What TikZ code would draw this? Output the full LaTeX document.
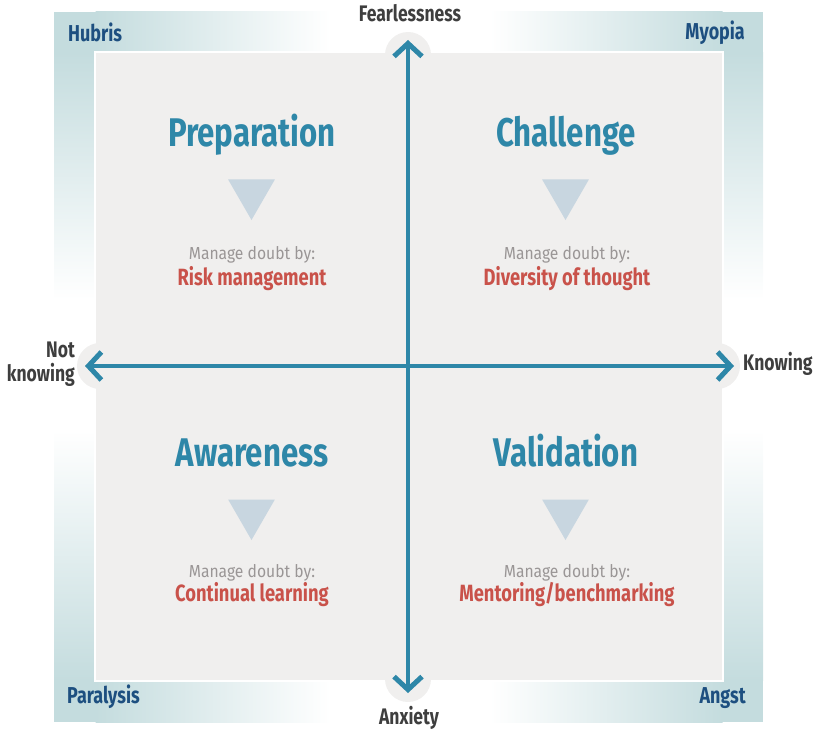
\documentclass[tikz,border=0pt]{standalone}
\usepackage{fontspec}
\setmainfont{Fira Sans}
\newfontfamily\condfont{Fira Sans}[FakeStretch=0.78]
\newfontfamily\thinfont{Fira Sans}[FakeStretch=0.9]
\usetikzlibrary{arrows.meta,shapes.geometric}

\definecolor{frameteal}{HTML}{C4DCDE}
\definecolor{panelgray}{HTML}{F0EFEE}
\definecolor{axisblue}{HTML}{2E87A8}
\definecolor{titleblue}{HTML}{2E87A8}
\definecolor{cornerblue}{HTML}{1D4F80}
\definecolor{axislabel}{HTML}{3E3E3E}
\definecolor{remedyred}{HTML}{C9524A}
\definecolor{wedgeblue}{HTML}{C8D6E0}
\definecolor{softgray}{HTML}{9A9696}

\tikzset{
  barb/.tip={Straight Barb[length=13pt,width=28pt,line width=5pt]},
  axisline/.style={draw=axisblue,line width=4.5pt,barb-barb},
  axistext/.style={font=\condfont\bfseries\fontsize{22.5}{24}\selectfont,text=axislabel,inner sep=0pt},
  cornertext/.style={font=\condfont\bfseries\fontsize{23}{25}\selectfont,text=cornerblue,inner sep=0pt},
  qtitle/.style={font=\condfont\bfseries\fontsize{40}{42}\selectfont,text=titleblue,anchor=base,inner sep=0pt},
  doubt/.style={font=\thinfont\fontsize{17.4}{19}\selectfont,text=softgray,anchor=base,inner sep=0pt},
  remedy/.style={font=\condfont\bfseries\fontsize{23.5}{25}\selectfont,text=remedyred,anchor=base,inner sep=0pt},
  wedge/.style={regular polygon,regular polygon sides=3,shape border rotate=180,
    fill=wedgeblue,inner sep=0pt,minimum size=54pt},
  endcap/.style={fill=panelgray}
}

\begin{document}
\begin{tikzpicture}[x=1pt,y=-1pt]
\useasboundingbox (0,0) rectangle (816,730);

% tinted frame: solid corners, fading towards the middle of each side
\fill[frameteal] (54,12) rectangle (96,53);
\fill[frameteal] (722,12) rectangle (763,53);
\fill[frameteal] (54,680) rectangle (96,722);
\fill[frameteal] (722,680) rectangle (763,722);
\shade[left color=frameteal,right color=white] (95.5,12) rectangle (330,52.5);
\shade[left color=white,right color=frameteal] (490,12) rectangle (722.5,52.5);
\shade[left color=frameteal,right color=white] (95.5,680.5) rectangle (330,722);
\shade[left color=white,right color=frameteal] (490,680.5) rectangle (722.5,722);
\shade[top color=frameteal,bottom color=white] (54,52.5) rectangle (95.5,300);
\shade[top color=white,bottom color=frameteal] (54,430) rectangle (95.5,680.5);
\shade[top color=frameteal,bottom color=white] (722.5,52.5) rectangle (763,300);
\shade[top color=white,bottom color=frameteal] (722.5,430) rectangle (763,680.5);

% central panel
\fill[panelgray,draw=white,line width=2pt] (95,52) rectangle (723,681);

% round caps behind the arrow heads
\fill[endcap] (408,55) circle (23);
\fill[endcap] (408,679) circle (23);
\fill[endcap] (100,366) circle (23);
\fill[endcap] (717,366) circle (23);

% axes
\coordinate (fear) at (408,40);
\coordinate (anx) at (408,693);
\coordinate (notk) at (85,366);
\coordinate (know) at (734,366);
\draw[axisline] (anx) -- (fear);
\draw[axisline] (notk) -- (know);

% axis labels
\node[axistext] (lfear) at (410,13) {Fearlessness};
\node[axistext] (lanx) at (409,718) {Anxiety};
\node[axistext,anchor=west] (lknow) at (743,364) {Knowing};
\node[axistext,anchor=east,align=right] (lnotk) at (75,364) {Not\\knowing};

% corner labels
\node[cornertext,anchor=west] (hubris) at (68,32) {Hubris};
\node[cornertext,anchor=east] (myopia) at (745,33) {Myopia};
\node[cornertext,anchor=west] (paralysis) at (67,697) {Paralysis};
\node[cornertext,anchor=east] (angst) at (746,698) {Angst};

% quadrants
\node[qtitle] (prep) at (252,147) {Preparation};
\node[wedge] (wprep) at (251.5,193) {};
\node[doubt] (dprep) at (252,259) {Manage doubt by:};
\node[remedy] (rprep) at (252,285) {Risk management};

\node[qtitle] (chal) at (566,147) {Challenge};
\node[wedge] (wchal) at (565.5,193) {};
\node[doubt] (dchal) at (567,259) {Manage doubt by:};
\node[remedy] (rchal) at (567,285) {Diversity of thought};

\node[qtitle] (aware) at (252,466) {Awareness};
\node[wedge] (waware) at (251.5,513) {};
\node[doubt] (daware) at (252,577) {Manage doubt by:};
\node[remedy] (raware) at (252,601) {Continual learning};

\node[qtitle] (valid) at (566,466) {Validation};
\node[wedge] (wvalid) at (565.5,513) {};
\node[doubt] (dvalid) at (567,577) {Manage doubt by:};
\node[remedy] (rvalid) at (567,601) {Mentoring/benchmarking};
\end{tikzpicture}
\end{document}
